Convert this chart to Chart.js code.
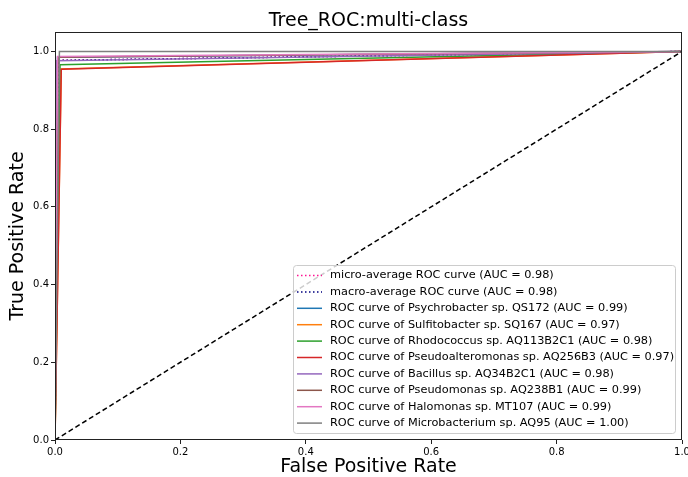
<!DOCTYPE html>
<html>
<head>
<meta charset="utf-8">
<script src="https://cdn.jsdelivr.net/npm/chart.js@4.4.0/dist/chart.umd.min.js"></script>
<style>
  html, body { margin: 0; padding: 0; background: #fff; }
  .wrap { width: 688px; height: 477px; }
</style>
</head>
<body>
<div class="wrap"><canvas id="roc"></canvas></div>
<script>
// ---- data ----
const classNames = ['Psychrobacter sp. QS172', 'Sulfitobacter sp. SQ167', 'Rhodococcus sp. AQ113B2C1',
    'Pseudoalteromonas sp. AQ256B3', 'Bacillus sp. AQ34B2C1', 'Pseudomonas sp. AQ238B1',
    'Halomonas sp. MT107', 'Microbacterium sp. AQ95'];
const classAuc = ['0.99', '0.97', '0.98', '0.97', '0.98', '0.99', '0.99', '1.00'];
const classFpr = [0.004, 0.010, 0.008, 0.010, 0.002, 0.005, 0.004, 0.007];
const classTpr = [0.985, 0.955, 0.966, 0.954, 0.976, 0.985, 0.987, 1.0];
const classColors = ['#1f77b4', '#ff7f0e', '#2ca02c', '#d62728', '#9467bd', '#8c564b', '#e377c2', '#7f7f7f'];

const avgNames = ['micro-average ROC curve', 'macro-average ROC curve'];
const avgAuc = ['0.98', '0.98'];
const avgFpr = [0.005, 0.005];
const avgTpr = [0.977, 0.977];
const avgColors = ['deeppink', 'navy'];

const xTicks = [0, 0.2, 0.4, 0.6, 0.8, 1.0];
const yTicks = [0, 0.2, 0.4, 0.6, 0.8, 1.0];

const FONT = 'DejaVu Sans';

function rocPoints(fpr, tpr) {
    return [{x: 0, y: 0}, {x: fpr, y: tpr}, {x: 1, y: 1}];
}

const datasets = [];
avgNames.forEach((n, i) => {
    datasets.push({
        label: `${n} (AUC = ${avgAuc[i]})`,
        data: rocPoints(avgFpr[i], avgTpr[i]),
        borderColor: avgColors[i],
        borderWidth: 1.5,
        borderDash: [1.5, 2.5],
        dotted: true
    });
});
classNames.forEach((n, i) => {
    datasets.push({
        label: `ROC curve of ${n} (AUC = ${classAuc[i]})`,
        data: rocPoints(classFpr[i], classTpr[i]),
        borderColor: classColors[i],
        borderWidth: 1.5
    });
});
datasets.push({
    label: '',
    data: [{x: 0, y: 0}, {x: 1, y: 1}],
    borderColor: '#000',
    borderWidth: 1.5,
    borderDash: [5, 3],
    noLegend: true
});
// matplotlib draws later lines on top
datasets.forEach((d, i) => {
    d.order = datasets.length - i;
    d.pointRadius = 0;
    d.fill = false;
    d.tension = 0;
});

const frameAndLegend = {
    id: 'frameAndLegend',
    afterDatasetsDraw(chart) {
        const {ctx, chartArea: a} = chart;
        ctx.save();
        ctx.strokeStyle = '#222';
        ctx.lineWidth = 1;
        ctx.strokeRect(a.left + 0.5, a.top + 0.5, a.right - a.left - 1, a.bottom - a.top - 1);

        // title over the axes
        ctx.fillStyle = '#000';
        ctx.font = `19px "${FONT}"`;
        ctx.textAlign = 'center';
        ctx.textBaseline = 'alphabetic';
        ctx.fillText('Tree_ROC:multi-class', (a.left + a.right) / 2, 26);

        // legend in lower right
        const items = chart.data.datasets.filter(d => !d.noLegend);
        const rowH = 16.4, boxW = 382, boxH = 168;
        const bx = a.right - 7 - boxW, by = a.bottom - 7 - boxH;
        ctx.fillStyle = 'rgba(255,255,255,0.8)';
        ctx.strokeStyle = '#cccccc';
        ctx.lineWidth = 1;
        ctx.beginPath();
        ctx.roundRect(bx + 0.5, by + 0.5, boxW, boxH, 3);
        ctx.fill();
        ctx.stroke();
        ctx.font = `11.3px "${FONT}"`;
        ctx.textAlign = 'left';
        ctx.textBaseline = 'middle';
        items.forEach((d, i) => {
            const y = by + 10.5 + i * rowH;
            ctx.strokeStyle = d.borderColor;
            ctx.lineWidth = 1.5;
            ctx.setLineDash(d.dotted ? [1.5, 2.5] : []);
            ctx.beginPath();
            ctx.moveTo(bx + 4, y);
            ctx.lineTo(bx + 29, y);
            ctx.stroke();
            ctx.setLineDash([]);
            ctx.fillStyle = '#000';
            ctx.fillText(d.label, bx + 37, y);
        });
        ctx.restore();
    }
};

new Chart(document.getElementById('roc'), {
    type: 'line',
    data: {datasets},
    options: {
        responsive: true,
        maintainAspectRatio: false,
        animation: false,
        layout: {padding: {top: 32, right: 6, left: 0, bottom: 0}},
        plugins: {
            legend: {display: false},
            tooltip: {enabled: false}
        },
        scales: {
            x: {
                type: 'linear',
                min: 0,
                max: 1,
                afterBuildTicks: s => { s.ticks = xTicks.map(v => ({value: v})); },
                afterFit: s => { s.height = 37; s.paddingLeft = 0; s.paddingRight = 0; },
                ticks: {
                    color: '#000',
                    font: {family: FONT, size: 10},
                    padding: 2,
                    maxRotation: 0,
                    callback: v => v.toFixed(1)
                },
                grid: {drawOnChartArea: false, color: '#222', tickLength: 4},
                border: {display: false},
                title: {
                    display: true,
                    text: 'False Positive Rate',
                    color: '#000',
                    font: {family: FONT, size: 19, lineHeight: 1},
                    padding: {top: 0, bottom: 0}
                }
            },
            y: {
                type: 'linear',
                min: 0,
                max: 1.05,
                afterBuildTicks: s => { s.ticks = yTicks.map(v => ({value: v})); },
                afterFit: s => { s.width = 55; },
                ticks: {
                    color: '#000',
                    font: {family: FONT, size: 10},
                    padding: 2,
                    callback: v => v.toFixed(1)
                },
                grid: {drawOnChartArea: false, color: '#222', tickLength: 4},
                border: {display: false},
                title: {
                    display: true,
                    text: 'True Positive Rate',
                    color: '#000',
                    font: {family: FONT, size: 19, lineHeight: 1},
                    padding: {top: 9, bottom: 0}
                }
            }
        }
    },
    plugins: [frameAndLegend]
});
</script>
</body>
</html>
